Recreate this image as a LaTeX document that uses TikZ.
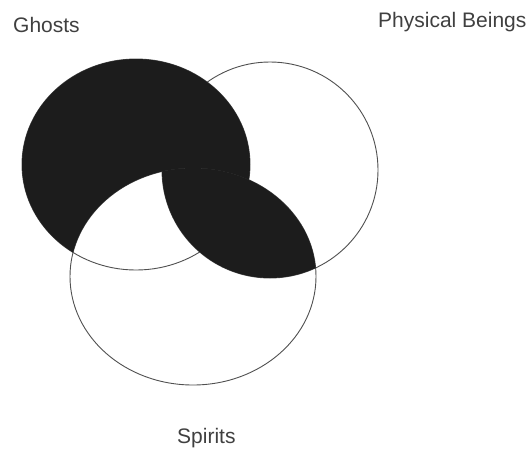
\documentclass[tikz,border=0pt]{standalone}
\usepackage{fontspec}
\setmainfont{Liberation Sans}
\definecolor{linegray}{HTML}{505050}
\definecolor{textgray}{HTML}{404040}
\definecolor{fillblack}{HTML}{1C1C1C}
\begin{document}
\begin{tikzpicture}[x=1pt,y=-1pt,
  outline/.style={draw=linegray,line width=0.9pt},
  label/.style={anchor=base west,inner sep=0pt,text=textgray,font=\fontsize{21}{24}\selectfont}]
\useasboundingbox (0,0) rectangle (526,448);
\fill[white] (0,0) rectangle (526,448);
% circle centres
\coordinate (g) at (136,164.5);
\coordinate (p) at (270,170);
\coordinate (s) at (193,276.5);
% outlines
\draw[outline] (g) ellipse [x radius=114pt, y radius=105.5pt];
\draw[outline] (p) ellipse [x radius=108pt, y radius=108pt];
\draw[outline] (s) ellipse [x radius=123pt, y radius=108.5pt];
% black: Ghosts outside Spirits
\begin{scope}
  \clip (g) ellipse [x radius=114pt, y radius=105.5pt];
  \fill[fillblack,even odd rule] (-10,-10) rectangle (600,500)
    (s) ellipse [x radius=123pt, y radius=108.5pt];
\end{scope}
% black: Physical Beings inside Spirits
\begin{scope}
  \clip (p) ellipse [x radius=108pt, y radius=108pt];
  \fill[fillblack] (s) ellipse [x radius=123pt, y radius=108.5pt];
\end{scope}
% labels
\node[label] (ghosts) at (13,32) {Ghosts};
\node[label] (physical) at (378,27) {Physical Beings};
\node[label] (spirits) at (177,443) {Spirits};
\end{tikzpicture}
\end{document}
